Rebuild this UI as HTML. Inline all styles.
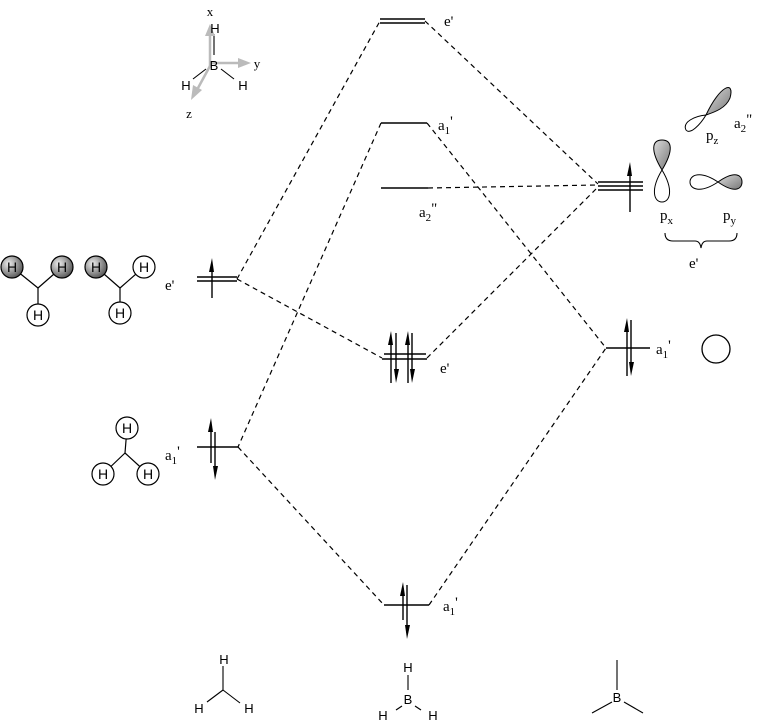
<!DOCTYPE html>
<html><head><style>body{margin:0;background:#fff}svg{display:block}text{font-family:"Liberation Serif",serif;fill:#000}.s{font-family:"Liberation Sans",sans-serif}</style></head>
<body>
<svg width="767" height="728" viewBox="0 0 767 728" xmlns="http://www.w3.org/2000/svg">
<defs>
<radialGradient id="g" cx="0.35" cy="0.35" r="0.7"><stop offset="0" stop-color="#eee"/><stop offset="1" stop-color="#555"/></radialGradient>
<linearGradient id="g2" x1="0" y1="0" x2="1" y2="1"><stop offset="0" stop-color="#ddd"/><stop offset="1" stop-color="#777"/></linearGradient>
</defs>
<g stroke="#000" stroke-width="1.2" stroke-dasharray="5,4" fill="none">
<line x1="237" y1="279" x2="380" y2="21"/><line x1="425" y1="21" x2="598" y2="184"/>
<line x1="237" y1="279" x2="382" y2="358"/><line x1="427" y1="358" x2="598" y2="187"/>
<line x1="428" y1="188" x2="598" y2="185"/>
<line x1="381" y1="123" x2="238" y2="447"/><line x1="427" y1="123" x2="606" y2="348"/>
<line x1="238" y1="447" x2="384" y2="605"/><line x1="429" y1="605" x2="606" y2="348"/>
</g>
<g stroke="#000" stroke-width="1.4" fill="none">
<line x1="380" y1="19" x2="425" y2="19"/><line x1="380" y1="23" x2="425" y2="23"/>
<line x1="381" y1="123" x2="427" y2="123"/>
<line x1="381" y1="188" x2="428" y2="188"/>
<line x1="197" y1="277" x2="237" y2="277"/><line x1="197" y1="281" x2="237" y2="281"/>
<line x1="197" y1="447" x2="238" y2="447"/>
<line x1="384" y1="354" x2="426" y2="354"/><line x1="382" y1="359" x2="427" y2="359"/>
<line x1="384" y1="605" x2="429" y2="605"/>
<line x1="598" y1="182" x2="643" y2="182"/><line x1="598" y1="186" x2="643" y2="186"/><line x1="598" y1="190" x2="643" y2="190"/>
<line x1="606" y1="348" x2="650" y2="348"/>
<line x1="212" y1="298" x2="212" y2="265"/>
<line x1="211" y1="463" x2="211" y2="425"/><line x1="215" y1="432" x2="215" y2="472"/>
<line x1="391" y1="383" x2="391" y2="338"/><line x1="396" y1="333" x2="396" y2="375"/>
<line x1="408" y1="383" x2="408" y2="338"/><line x1="412" y1="333" x2="412" y2="375"/>
<line x1="403" y1="620" x2="403" y2="588"/><line x1="407" y1="585" x2="407" y2="633"/>
<line x1="630" y1="212" x2="630" y2="168"/>
<line x1="627" y1="376" x2="627" y2="325"/><line x1="631" y1="320" x2="631" y2="369"/>
</g>
<g fill="#000">
<polygon points="209,272 212,258 214,272"/>
<polygon points="208,432 211,418 213,432"/><polygon points="213,466 215,480 218,466"/>
<polygon points="388,345 391,331 393,345"/><polygon points="394,369 396,383 399,369"/>
<polygon points="405,345 408,331 410,345"/><polygon points="410,369 412,383 415,369"/>
<polygon points="400,596 403,582 405,596"/><polygon points="405,625 407,639 410,625"/>
<polygon points="627,176 630,162 632,176"/>
<polygon points="624,332 627,318 629,332"/><polygon points="629,362 631,376 634,362"/>
</g>
<text x="444" y="26" font-size="15">e'</text>
<text x="438" y="130" font-size="15">a<tspan font-size="11" dy="4">1</tspan><tspan dy="-8">'</tspan></text>
<text x="419" y="217" font-size="15">a<tspan font-size="11" dy="4">2</tspan><tspan dy="-8">"</tspan></text>
<text x="165" y="290" font-size="15">e'</text>
<text x="165" y="460" font-size="15">a<tspan font-size="11" dy="4">1</tspan><tspan dy="-8">'</tspan></text>
<text x="440" y="373" font-size="15">e'</text>
<text x="443" y="611" font-size="15">a<tspan font-size="11" dy="4">1</tspan><tspan dy="-8">'</tspan></text>
<text x="656" y="354" font-size="15">a<tspan font-size="11" dy="4">1</tspan><tspan dy="-8">'</tspan></text>
<text x="734" y="128" font-size="15">a<tspan font-size="11" dy="4">2</tspan><tspan dy="-8">"</tspan></text>
<text x="706" y="140" font-size="15">p<tspan font-size="11" dy="4">z</tspan></text>
<text x="660" y="220" font-size="15">p<tspan font-size="11" dy="4">x</tspan></text>
<text x="723" y="220" font-size="15">p<tspan font-size="11" dy="4">y</tspan></text>
<text x="689" y="268" font-size="15">e'</text>
<path d="M665,233 q0,8 8,8 h22 q5,0 6,7 q1,-7 6,-7 h22 q8,0 8,-8" stroke="#000" fill="none" stroke-width="1.1"/>
<path d="M706,115 C720,85 735,80 730,98 C726,108 715,112 706,115Z" fill="url(#g2)" stroke="#000"/>
<path d="M706,115 C700,125 690,135 686,130 C682,122 695,116 706,115Z" fill="#fff" stroke="#000"/>
<path d="M662,170 C650,150 652,140 662,140 C672,140 674,150 662,170Z" fill="url(#g2)" stroke="#000"/>
<path d="M662,170 C650,190 654,202 662,202 C670,202 674,190 662,170Z" fill="#fff" stroke="#000"/>
<path d="M718,182 C700,170 690,175 690,182 C690,189 700,194 718,182Z" fill="#fff" stroke="#000"/>
<path d="M718,182 C735,170 742,175 742,182 C742,189 735,194 718,182Z" fill="url(#g2)" stroke="#000"/>
<circle cx="716" cy="349" r="14" fill="none" stroke="#000" stroke-width="1.3"/>
<g stroke="#000" stroke-width="1.2">
<line x1="12" y1="267" x2="38" y2="288"/><line x1="62" y1="267" x2="38" y2="288"/><line x1="38" y1="288" x2="38" y2="315"/>
<line x1="96" y1="267" x2="120" y2="288"/><line x1="144" y1="267" x2="120" y2="288"/><line x1="120" y1="288" x2="120" y2="313"/>
<line x1="127" y1="428" x2="125" y2="453"/><line x1="103" y1="474" x2="125" y2="453"/><line x1="148" y1="474" x2="125" y2="453"/>
</g>
<g stroke="#000" stroke-width="1.2">
<circle cx="12" cy="267" r="11" fill="url(#g)"/><circle cx="62" cy="267" r="11" fill="url(#g)"/><circle cx="38" cy="315" r="11" fill="#fff"/>
<circle cx="96" cy="267" r="11" fill="url(#g)"/><circle cx="144" cy="267" r="11" fill="#fff"/><circle cx="120" cy="313" r="11" fill="#fff"/>
<circle cx="127" cy="428" r="11" fill="#fff"/><circle cx="103" cy="474" r="11" fill="#fff"/><circle cx="148" cy="474" r="11" fill="#fff"/>
</g>
<g font-size="14" text-anchor="middle">
<text class="s" x="12" y="272">H</text><text class="s" x="62" y="272">H</text><text class="s" x="38" y="320">H</text>
<text class="s" x="96" y="272">H</text><text class="s" x="144" y="272">H</text><text class="s" x="120" y="318">H</text>
<text class="s" x="127" y="433">H</text><text class="s" x="103" y="479">H</text><text class="s" x="148" y="479">H</text>
</g>
<g stroke="#000" stroke-width="1.1">
<line x1="214" y1="34" x2="214" y2="55"/><line x1="193" y1="79" x2="206" y2="69"/><line x1="221" y1="69" x2="234" y2="79"/>
</g>
<g stroke="#bbb" stroke-width="2.5" fill="#bbb">
<line x1="210" y1="66" x2="210" y2="34"/><polygon points="205,36 210,24 215,36" stroke="none"/>
<line x1="210" y1="63" x2="240" y2="63"/><polygon points="238,58 251,63 238,68" stroke="none"/>
<line x1="210" y1="66" x2="198" y2="88"/><polygon points="193,85 191,100 202,90" stroke="none"/>
</g>
<g font-size="13" text-anchor="middle">
<text class="s" x="215" y="33">H</text><text class="s" x="214" y="70">B</text><text class="s" x="186" y="90">H</text><text class="s" x="243" y="90">H</text>
<text x="210" y="16" font-size="13">x</text><text x="257" y="68" font-size="13">y</text><text x="189" y="118" font-size="13">z</text>
</g>
<g stroke="#000" stroke-width="1.1">
<line x1="223" y1="666" x2="223" y2="690"/><line x1="223" y1="690" x2="207" y2="702"/><line x1="223" y1="690" x2="240" y2="703"/>
<line x1="408" y1="675" x2="408" y2="690"/><line x1="396" y1="710" x2="402" y2="706"/><line x1="415" y1="706" x2="421" y2="710"/>
<line x1="617" y1="660" x2="617" y2="690"/><line x1="612" y1="702" x2="592" y2="713"/><line x1="624" y1="702" x2="643" y2="713"/>
</g>
<g font-size="13" text-anchor="middle">
<text class="s" x="224" y="664">H</text><text class="s" x="199" y="713">H</text><text class="s" x="249" y="713">H</text>
<text class="s" x="408" y="672">H</text><text class="s" x="408" y="704">B</text><text class="s" x="383" y="720">H</text><text class="s" x="433" y="720">H</text>
<text class="s" x="617" y="702">B</text>
</g>
</svg>
</body></html>
